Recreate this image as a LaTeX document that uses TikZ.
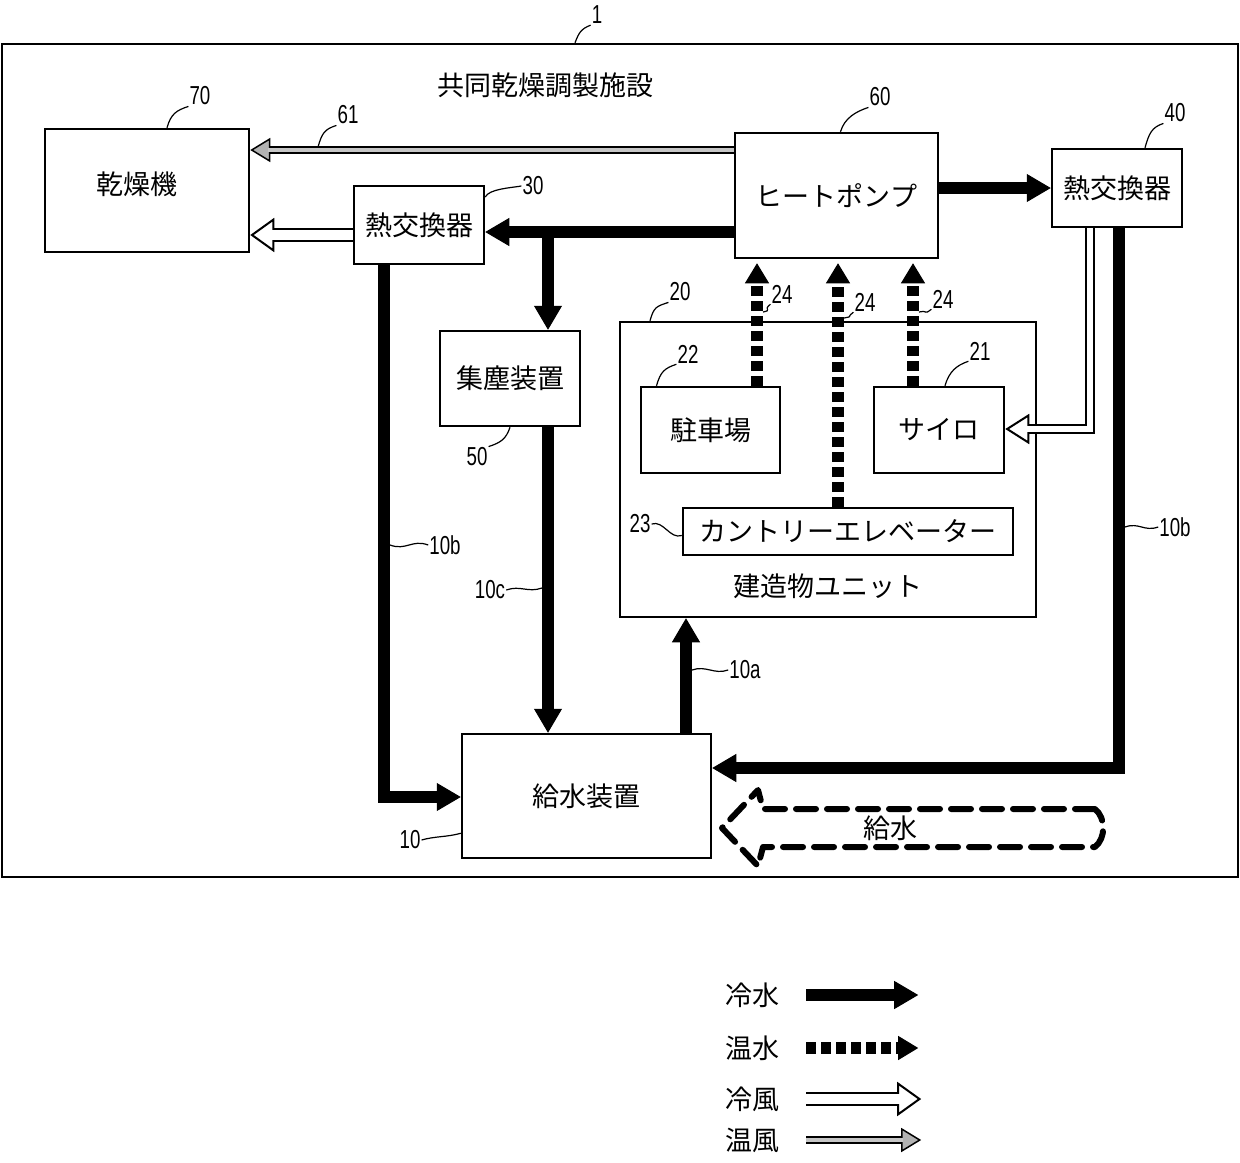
\documentclass[tikz,border=0pt]{standalone}
\usepackage{fontspec}
\setmainfont{Noto Sans CJK JP}
\newfontfamily\numfont[FakeStretch=0.72]{Liberation Sans}
\usetikzlibrary{arrows.meta,positioning}

\begin{document}
\begin{tikzpicture}[x=1bp,y=-1bp,
    box/.style={draw,line width=2.5bp,inner sep=0pt,font=\fontsize{27bp}{30bp}\selectfont},
    txt/.style={inner sep=1bp,font=\fontsize{27bp}{30bp}\selectfont},
    num/.style={inner sep=1bp,font=\numfont\fontsize{26bp}{30bp}\selectfont},
    leader/.style={line width=1.2bp},
    coldwater/.style={line width=12bp,-{Triangle[length=24bp,width=28bp,line width=1bp]}},
    warmwater/.style={line width=12bp,dash pattern=on 10bp off 5bp,shorten >=4bp,-{Triangle[length=20bp,width=24bp,line width=1bp]}},
    coldair/.style={line width=14bp,-{Triangle[length=24bp,width=34bp,fill=white,line width=2bp]},postaction={draw=white,line width=10bp,-,shorten >=20bp}},
    coldairthin/.style={line width=10bp,-{Triangle[length=24bp,width=30bp,fill=white,line width=2bp]},postaction={draw=white,line width=6bp,-,shorten >=20bp}},
    warmair/.style={line width=8bp,-{Triangle[length=20bp,width=24bp,fill=gray!60,line width=1.5bp]},postaction={draw=gray!45,line width=4bp,-,shorten >=18bp}},
    supplyflow/.style={line width=6bp,dash pattern=on 20bp off 11bp,line cap=round,line join=round}]
\useasboundingbox (0,0) rectangle (1240,1163);

\node[box,minimum width=1236bp,minimum height=833bp] (plant) at (620,460.5) {};
\node[txt] (title) at (545,85) {共同乾燥調製施設};

\node[box,minimum width=204bp,minimum height=123bp] (dryer) at (147,190.5) {};
\node[txt] (dryername) at (137,184) {乾燥機};
\node[box,minimum width=203bp,minimum height=125bp] (hp) at (836.5,195.5) {ヒートポンプ};
\node[box,minimum width=130bp,minimum height=78bp] (hexr) at (1117,188) {熱交換器};
\node[box,minimum width=130bp,minimum height=78bp] (hexl) at (419,225) {熱交換器};
\node[box,minimum width=140bp,minimum height=95bp] (dust) at (510,378.5) {集塵装置};
\node[box,minimum width=416bp,minimum height=295bp] (unit) at (828,469.5) {};
\node[txt,above=18bp of unit.south] (unitname) {建造物ユニット};
\node[box,minimum width=139bp,minimum height=86bp] (park) at (710.5,430) {駐車場};
\node[box,minimum width=130bp,minimum height=86bp] (silo) at (939,430) {サイロ};
\node[box,minimum width=330bp,minimum height=47bp] (elev) at (848,531.5) {カントリーエレベーター};
\node[box,minimum width=249bp,minimum height=124bp] (supply) at (586.5,796) {給水装置};

\draw[warmair] (hp.west |- 0,150) -- (dryer.east |- 0,150);
\draw[coldair] (hexl.west |- 0,235) -- (dryer.east |- 0,235);
\draw[coldwater] (hp.west |- 0,232) -- (hexl.east |- 0,232);
\coordinate (branch) at (548,232);
\draw[coldwater] (branch) -- (dust.north -| branch);
\draw[coldwater] (hp.east |- hexr.west) -- (hexr.west);
\draw[coldairthin] (hexr.south -| 1090,0) |- (silo.east |- 0,429);
\draw[coldwater] (hexr.south -| 1119,0) |- (supply.east |- 0,768);
\draw[coldwater] (hexl.south -| 384,0) |- (supply.west |- 0,797);
\draw[coldwater] (dust.south -| branch) -- (supply.north -| branch);
\draw[coldwater] (supply.north -| 686,0) -- (unit.south -| 686,0);
\draw[warmwater] (park.north -| 757,0) -- (hp.south -| 757,0);
\draw[warmwater] (elev.north -| 838,0) -- (hp.south -| 838,0);
\draw[warmwater] (silo.north -| 913,0) -- (hp.south -| 913,0);

\draw[supplyflow] (1095,809) -- (763,809) -- (758,790) -- (722,828) -- (758,866) -- (763,847) -- (1095,847) .. controls (1106,838) and (1106,818) .. cycle;
\node[txt] (supplytext) at (890,828) {給水};

\node[num] (l1) at (597,15) {1};
\node[num] (l70) at (200,96) {70};
\node[num] (l61) at (348,115) {61};
\node[num] (l60) at (880,97) {60};
\node[num] (l40) at (1175,113) {40};
\node[num] (l30) at (533,186) {30};
\node[num] (l20) at (680,292) {20};
\node[num] (l22) at (688,354) {22};
\node[num] (l21) at (980,351) {21};
\node[num] (l24a) at (782,294) {24};
\node[num] (l24b) at (865,302) {24};
\node[num] (l24c) at (943,299) {24};
\node[num] (l50) at (477,457) {50};
\node[num] (l23) at (640,524) {23};
\node[num] (l10br) at (1175,527) {10b};
\node[num] (l10bl) at (445,545) {10b};
\node[num] (l10c) at (490,590) {10c};
\node[num] (l10a) at (745,670) {10a};
\node[num] (l10) at (410,840) {10};

\coordinate (w61) at (318,147);
\coordinate (w24a) at (763,312);
\coordinate (w24b) at (844,318);
\coordinate (w24c) at (919,312);
\coordinate (w10br) at (1125,527);
\coordinate (w10bl) at (390,545);
\coordinate (w10c) at (542,588);
\coordinate (w10a) at (692,670);

\draw[leader] ([xshift=-45bp]plant.north) .. controls +(4,-10) and +(-10,4) .. (l1.south west);
\draw[leader] ([xshift=20bp]dryer.north) .. controls +(4,-14) and +(-12,4) .. (l70.south west);
\draw[leader] (w61) .. controls +(4,-14) and +(-12,4) .. (l61.south west);
\draw[leader] ([xshift=4bp]hp.north) .. controls +(4,-14) and +(-12,4) .. (l60.south west);
\draw[leader] ([xshift=28bp]hexr.north) .. controls +(4,-14) and +(-12,4) .. (l40.south west);
\draw[leader] ([yshift=28bp]hexl.east) .. controls +(4,-8) and +(-12,2) .. (l30.west);
\draw[leader] ([xshift=-178bp]unit.north) .. controls +(4,-14) and +(-12,4) .. (l20.south west);
\draw[leader] ([xshift=-54bp]park.north) .. controls +(4,-14) and +(-12,4) .. (l22.south west);
\draw[leader] ([xshift=6bp]silo.north) .. controls +(4,-14) and +(-12,4) .. (l21.south west);
\draw[leader] (w24a) .. controls +(10,-2) and +(-8,6) .. (l24a.south west);
\draw[leader] (w24b) .. controls +(10,-2) and +(-8,6) .. (l24b.south west);
\draw[leader] (w24c) .. controls +(10,-2) and +(-8,6) .. (l24c.south west);
\draw[leader] (dust.south) .. controls +(-4,12) and +(12,-4) .. (l50.north east);
\draw[leader] (l23.east) .. controls +(12,-4) and +(-12,4) .. ([yshift=-4bp]elev.west);
\draw[leader] (w10br) .. controls +(14,-5) and +(-14,5) .. (l10br.west);
\draw[leader] (w10bl) .. controls +(16,6) and +(-16,-6) .. (l10bl.west);
\draw[leader] (l10c.east) .. controls +(14,-5) and +(-14,5) .. (w10c);
\draw[leader] (w10a) .. controls +(14,-5) and +(-14,5) .. (l10a.west);
\draw[leader] (l10.east) .. controls +(14,-4) and +(-14,4) .. ([yshift=26bp]supply.south west);

\node[txt] (lg1) at (752,995) {冷水};
\node[txt] (lg2) at (752,1048) {温水};
\node[txt] (lg3) at (752,1099) {冷風};
\node[txt] (lg4) at (752,1140) {温風};
\draw[coldwater] ([xshift=26bp]lg1.east) -- ++(112,0);
\draw[warmwater] ([xshift=26bp]lg2.east) -- ++(116,0);
\draw[coldair] ([xshift=26bp]lg3.east) -- ++(115,0);
\draw[warmair] ([xshift=26bp]lg4.east) -- ++(115,0);
\end{tikzpicture}
\end{document}
